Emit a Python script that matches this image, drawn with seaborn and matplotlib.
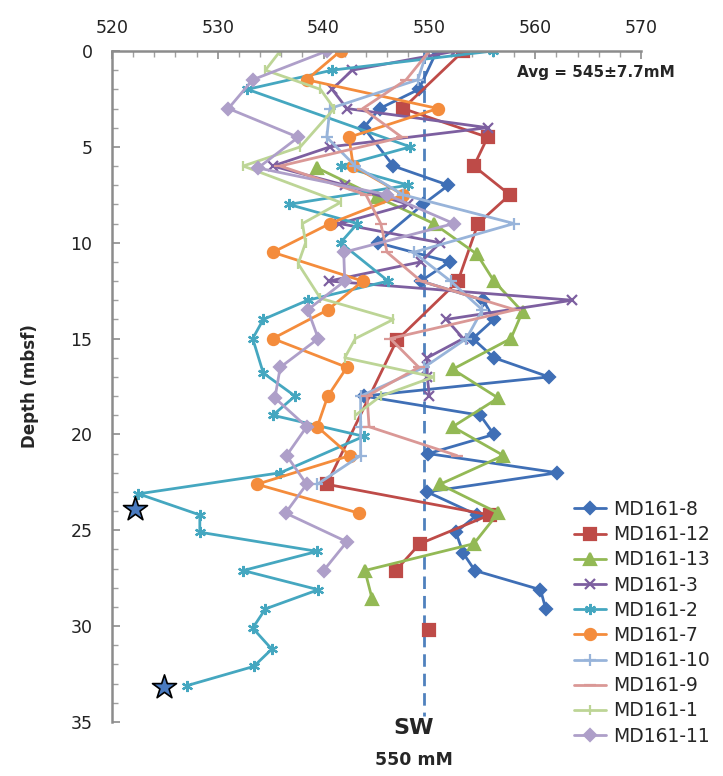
import numpy as np
import pandas as pd
import matplotlib
matplotlib.use("Agg")
import matplotlib.pyplot as plt
import seaborn as sns
from matplotlib.ticker import MultipleLocator

sns.set_theme(style="white")
plt.rcParams['font.family'] = ['DejaVu Sans']

nan = np.nan
# ---------------- data ----------------
names = ["MD161-8", "MD161-12", "MD161-13", "MD161-3", "MD161-2",
         "MD161-7", "MD161-10", "MD161-9", "MD161-1", "MD161-11"]

depth8 = [0, 2, 3, 4, 6, 7, 8, 10, 11, 12, 13, 14, 15, 16, 17, 18, 19, 20, 21, 22, 23, 24.2, 25.1, 26.2, 27.1, 28.1, 29.1]
vals8 = [550.7, 549.0, 545.3, 543.8, 546.6, 551.8, 549.4, 545.1, 551.9, 549.2, 555.1, 556.1, 554.1, 556.1, 561.3, 543.8, 554.8, 556.1, 549.9, 562.1, 549.8, 554.5, 552.5, 553.2, 554.3, 560.5, 561.0]

depth12 = [0, 3, 4.5, 6, 7.5, 9, 12, 15.1, 22.6, 24.2, 25.7, 27.1, nan, 30.2]
vals12 = [553.2, 547.5, 555.5, 554.2, 557.6, 554.6, 552.7, 546.9, 540.3, 555.7, 549.1, 546.8, nan, 550.0]

depth13 = [6.1, 7.6, 9.0, 10.6, 12.0, 13.6, 15.0, 16.6, 18.1, 19.6, 21.1, 22.6, 24.1, 25.7, 27.1, 28.6]
vals13 = [539.4, 545.0, 550.4, 554.5, 556.1, 558.8, 557.7, 552.2, 556.5, 552.2, 557.0, 551.0, 556.5, 554.2, 543.9, 544.6]

depth3 = [0, 1, 2, 3, 4, 5, 6, 7, 8, 9, 10, 11, 12, 13, 14, 15, 16, 17, 18]
vals3 = [552.5, 542.7, 540.8, 542.2, 555.5, 540.6, 535.2, 542.0, 548.0, 541.5, 551.0, 549.2, 540.5, 563.5, 551.6, 553.2, 549.8, 549.8, 550.0]

depth2 = [0, 1, 2, 5, 6, 7, 8, 9, 10, 12, 13, 14, 15, 16.8, 18, 19, 20.1, 22, 23.1, 24.2, 25.1, 26.1, 27.1, 28.1, 29.1, 30.1, 31.2, 32.1, 33.1]
vals2 = [556.0, 540.8, 532.8, 548.2, 541.6, 548.0, 536.7, 543.2, 541.6, 546.1, 538.5, 534.3, 533.3, 534.3, 537.3, 535.2, 543.8, 535.9, 522.5, 528.3, 528.3, 539.4, 532.4, 539.5, 534.5, 533.3, 535.1, 533.4, 527.1]

depth7 = [0, 1.5, 3, 4.5, 6, 7.5, 9, 10.5, 12, 13.5, 15, 16.5, 18, 19.6, 21.1, 22.6, 24.1]
vals7 = [541.6, 538.4, 550.8, 542.4, 542.8, 547.5, 540.6, 535.2, 543.7, 540.4, 535.2, 542.2, 540.4, 539.4, 542.5, 533.7, 543.3]

depth10 = [0, 1.5, 3, 4.5, 6, 7.5, 9, 10.5, 12, 13.5, 15, 16.5, 18, 19.6, 21.1, 22.6]
vals10 = [549.8, 548.9, 540.6, 540.3, 543.0, 547.5, 558.0, 548.5, 552.0, 555.0, 553.5, 549.5, 543.5, 543.5, 543.5, 539.4]

depth9 = [0, 1.5, 3, 4.5, 6, 7.5, 9, 10.5, 12, 13.5, 15, 16.5, 18, 19.6, 21.1]
vals9 = [550.0, 547.8, 543.7, 547.4, 535.9, 544.0, 545.4, 546.0, 549.2, 558.1, 546.3, 549.0, 544.1, 544.3, 552.6]

depth1 = [0, 1, 2, 3, 5, 6, 7.9, 9, 10, 11.1, 12.9, 14, 15, 16, 17, 18, 19]
vals1 = [535.9, 534.5, 539.7, 541.0, 537.8, 532.4, 541.6, 538.0, 538.3, 537.6, 539.7, 546.6, 543.0, 542.0, 550.4, 545.4, 543.0]

depth11 = [0, 1.5, 3, 4.5, 6.1, 7.5, 9, 10.5, 12, 13.5, 15, 16.5, 18.1, 19.6, 21.1, 22.6, 24.1, 25.6, 27.1]
vals11 = [540.3, 533.3, 531.0, 537.6, 533.8, 546.0, 552.3, 541.9, 542.0, 538.5, 539.5, 535.9, 535.4, 538.4, 536.5, 538.4, 536.4, 542.2, 540.0]

star_vals = [522.2, 524.9]
star_depths = [23.9, 33.2]

sw_value = 549.5
x_ticks = [520, 530, 540, 550, 560, 570]
y_ticks = [0, 5, 10, 15, 20, 25, 30, 35]

series = [(depth8, vals8), (depth12, vals12), (depth13, vals13), (depth3, vals3),
          (depth2, vals2), (depth7, vals7), (depth10, vals10), (depth9, vals9),
          (depth1, vals1), (depth11, vals11)]

colors = ["#3F6FB6", "#BE4B48", "#93B955", "#7D5FA0", "#45A7C0",
          "#F48C3C", "#98B4DA", "#DA9896", "#BDD596", "#AE9FC9"]
markers = ["D", "s", "^", "x", (6, 2, 0), "o", "+", "_", "|", "D"]
msizes = [6, 8, 8, 7, 8, 8, 8, 8, 7, 6]

# ---------------- figure ----------------
W, H = 723, 776
fig = plt.figure(figsize=(W / 100, H / 100), dpi=100)
ax = fig.add_axes([112 / W, 1 - 722 / H, (641 - 112) / W, (722 - 51) / H])

for (d, v), name, c, m, ms in zip(series, names, colors, markers, msizes):
    df = pd.DataFrame({"depth": d, "val": v})
    df["seg"] = df["val"].isna().cumsum()
    df = df.dropna()
    first = True
    for _, g in df.groupby("seg"):
        sns.lineplot(data=g, x="val", y="depth", sort=False, estimator=None,
                     ax=ax, color=c, marker=m, markersize=ms, linewidth=2.0,
                     markeredgecolor=c, markeredgewidth=1.6,
                     label=name if first else None, legend=False)
        first = False

# SW reference line
ax.plot([sw_value, sw_value], [0, 34.7], color="#4F81BD", lw=2.0,
        dashes=(4.5, 2.5), zorder=1)

# stars
sns.scatterplot(x=star_vals, y=star_depths, ax=ax, marker="*", s=330,
                color="#4A7BC0", edgecolor="black", linewidth=1.2, zorder=5,
                legend=False)

ax.set_xlim(520, 570)
ax.set_ylim(35, 0)
ax.xaxis.tick_top()
ax.set_xticks(x_ticks)
ax.set_yticks(y_ticks)
ax.xaxis.set_minor_locator(MultipleLocator(2))
ax.yaxis.set_minor_locator(MultipleLocator(1))
ax.tick_params(axis="both", which="major", direction="in", length=6, width=1.2,
               color="#8C8C8C", labelsize=12.5, labelcolor="#222222")
ax.tick_params(axis="both", which="minor", direction="in", length=4, width=1.0,
               color="#A0A0A0")
ax.tick_params(axis="x", which="both", top=True, bottom=False, pad=10)
ax.tick_params(axis="y", which="both", left=True, right=False, pad=14)
for s in ["right", "bottom"]:
    ax.spines[s].set_visible(False)
for s in ["left", "top"]:
    ax.spines[s].set_color("#8C8C8C")
    ax.spines[s].set_linewidth(1.8)
ax.set_xlabel("")
ax.set_ylabel("")
ax.grid(False)

fig.text(30 / W, 1 - 386 / H, "Depth (mbsf)", rotation=90, ha="center",
         va="center", fontsize=12, fontweight="bold")
fig.text(517 / W, 1 - 73 / H, "Avg = 545±7.7mM", ha="left",
         va="center", fontsize=11, fontweight="bold")
fig.text(414 / W, 1 - 728 / H, "SW", ha="center", va="center", fontsize=16,
         fontweight="bold")
fig.text(414 / W, 1 - 760 / H, "550 mM", ha="center", va="center",
         fontsize=12.5, fontweight="bold")

h, l = ax.get_legend_handles_labels()
fig.legend(handles=h, labels=l, loc="upper left",
           bbox_to_anchor=(574 / W, 1 - 500 / H),
           frameon=False, fontsize=13.5, handlelength=1.7,
           handletextpad=0.4, labelspacing=0.33, borderaxespad=0,
           borderpad=0)

fig.savefig("out.png", dpi=100)
